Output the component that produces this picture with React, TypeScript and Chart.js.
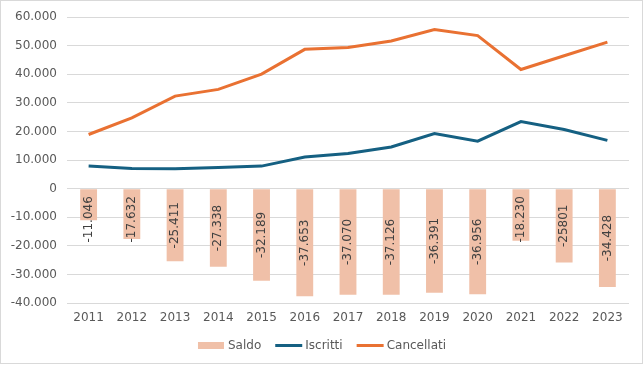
import React, { useEffect, useRef } from "react";
import { Chart, registerables } from "chart.js";

Chart.register(...registerables);

const years = ["2011", "2012", "2013", "2014", "2015", "2016", "2017", "2018", "2019", "2020", "2021", "2022", "2023"];
const saldo = [-11046, -17632, -25411, -27338, -32189, -37653, -37070, -37126, -36391, -36956, -18230, -25801, -34428];
const saldoLabels = ["-11.046", "-17.632", "-25.411", "-27.338", "-32.189", "-37.653", "-37.070", "-37.126", "-36.391", "-36.956", "-18.230", "-25801", "-34.428"];
const iscritti = [7900, 7100, 7000, 7400, 7900, 11100, 12300, 14600, 19300, 16600, 23500, 20700, 16900];
const cancellati = [18950, 24750, 32400, 34750, 40100, 48750, 49400, 51700, 55700, 53550, 41700, 46500, 51300];
const seriesNames = ["Saldo", "Iscritti", "Cancellati"];
const yMin = -40000;
const yMax = 60000;
const yStep = 10000;

const FONT = "'DejaVu Sans', Verdana, sans-serif";
const TEXT = "#595959";
const GRID = "#d9d9d9";
const BAR = "#F0C0A8";
const TEAL = "#156082";
const ORANGE = "#E97132";

function fmt(v: number): string {
  const s = Math.abs(v).toString().replace(/\B(?=(\d{3})+(?!\d))/g, ".");
  return (v < 0 ? "-" : "") + s;
}

const borderPlugin = {
  id: "frameBorder",
  afterDraw(chart: any) {
    const ctx = chart.ctx;
    ctx.save();
    ctx.strokeStyle = GRID;
    ctx.lineWidth = 1;
    ctx.strokeRect(0.5, 0.5, chart.width - 2, chart.height - 2);
    ctx.restore();
  },
};

const barLabelPlugin = {
  id: "barLabels",
  afterDatasetDraw(chart: any, args: any) {
    if (args.index !== 0) return;
    const ctx = chart.ctx;
    const meta = chart.getDatasetMeta(0);
    ctx.save();
    ctx.font = "12px " + FONT;
    ctx.fillStyle = "#404040";
    ctx.textAlign = "center";
    ctx.textBaseline = "middle";
    meta.data.forEach((bar: any, i: number) => {
      const txt = saldoLabels[i];
      const w = ctx.measureText(txt).width;
      const center = (bar.y + bar.base) / 2;
      const cy = Math.max(center, bar.base + 7 + w / 2);
      ctx.save();
      ctx.translate(bar.x, cy);
      ctx.rotate(-Math.PI / 2);
      ctx.fillText(txt, 0, 0);
      ctx.restore();
    });
    ctx.restore();
  },
};

const legendPlugin = {
  id: "customLegend",
  afterDraw(chart: any) {
    const ctx = chart.ctx;
    ctx.save();
    ctx.font = "12px " + FONT;
    const symW = 27;
    const gap = 3;
    const spacing = 14;
    const widths = seriesNames.map((n) => symW + gap + ctx.measureText(n).width);
    const total = widths.reduce((a, b) => a + b, 0) + spacing * (seriesNames.length - 1);
    let x = (chart.width - total) / 2;
    const cy = 345.5;
    const colors = [BAR, TEAL, ORANGE];
    seriesNames.forEach((n, i) => {
      if (i === 0) {
        ctx.fillStyle = colors[i];
        ctx.fillRect(x, cy - 3.5, symW - 1, 7);
      } else {
        ctx.strokeStyle = colors[i];
        ctx.lineWidth = 3;
        ctx.beginPath();
        ctx.moveTo(x, cy);
        ctx.lineTo(x + symW, cy);
        ctx.stroke();
      }
      ctx.fillStyle = TEXT;
      ctx.textAlign = "left";
      ctx.textBaseline = "middle";
      ctx.fillText(n, x + symW + gap, cy);
      x += widths[i] + spacing;
    });
    ctx.restore();
  },
};

export default function App() {
  const ref = useRef<HTMLCanvasElement | null>(null);

  useEffect(() => {
    if (!ref.current) return;
    Chart.defaults.font.family = FONT;
    Chart.defaults.font.size = 12;
    Chart.defaults.color = TEXT;
    const chart = new Chart(ref.current, {
      type: "bar",
      data: {
        labels: years,
        datasets: [
          {
            type: "bar",
            label: seriesNames[0],
            data: saldo,
            backgroundColor: BAR,
            borderWidth: 0,
            categoryPercentage: 1,
            barPercentage: 0.39,
            order: 2,
          },
          {
            type: "line",
            label: seriesNames[1],
            data: iscritti,
            borderColor: TEAL,
            backgroundColor: TEAL,
            borderWidth: 3,
            pointRadius: 0,
            tension: 0,
            order: 1,
          },
          {
            type: "line",
            label: seriesNames[2],
            data: cancellati,
            borderColor: ORANGE,
            backgroundColor: ORANGE,
            borderWidth: 3,
            pointRadius: 0,
            tension: 0,
            order: 0,
          },
        ] as any,
      },
      options: {
        responsive: false,
        animation: false,
        devicePixelRatio: 1,
        layout: { padding: { top: 15, right: 15, bottom: 36, left: 0 } },
        plugins: {
          legend: { display: false },
          tooltip: { enabled: false },
        },
        scales: {
          x: {
            offset: true,
            grid: { display: false, drawTicks: false },
            border: { display: false },
            ticks: { color: TEXT, font: { size: 12, family: FONT }, padding: 8, maxRotation: 0, autoSkip: false },
            afterFit(scale: any) {
              scale.height = 26;
            },
          },
          y: {
            min: yMin,
            max: yMax,
            grid: { color: GRID, drawTicks: false },
            border: { display: false },
            ticks: {
              stepSize: yStep,
              color: TEXT,
              font: { size: 12, family: FONT },
              padding: 10,
              callback: (v: any) => fmt(Number(v)),
            },
            afterFit(scale: any) {
              scale.width = 67;
            },
          },
        },
      } as any,
      plugins: [barLabelPlugin, legendPlugin, borderPlugin],
    });
    return () => chart.destroy();
  }, []);

  return (
    <div style={{ position: "absolute", left: 0, top: 0, width: 644, height: 365, background: "#fff" }}>
      <canvas ref={ref} width={644} height={365} style={{ display: "block" }} />
    </div>
  );
}
